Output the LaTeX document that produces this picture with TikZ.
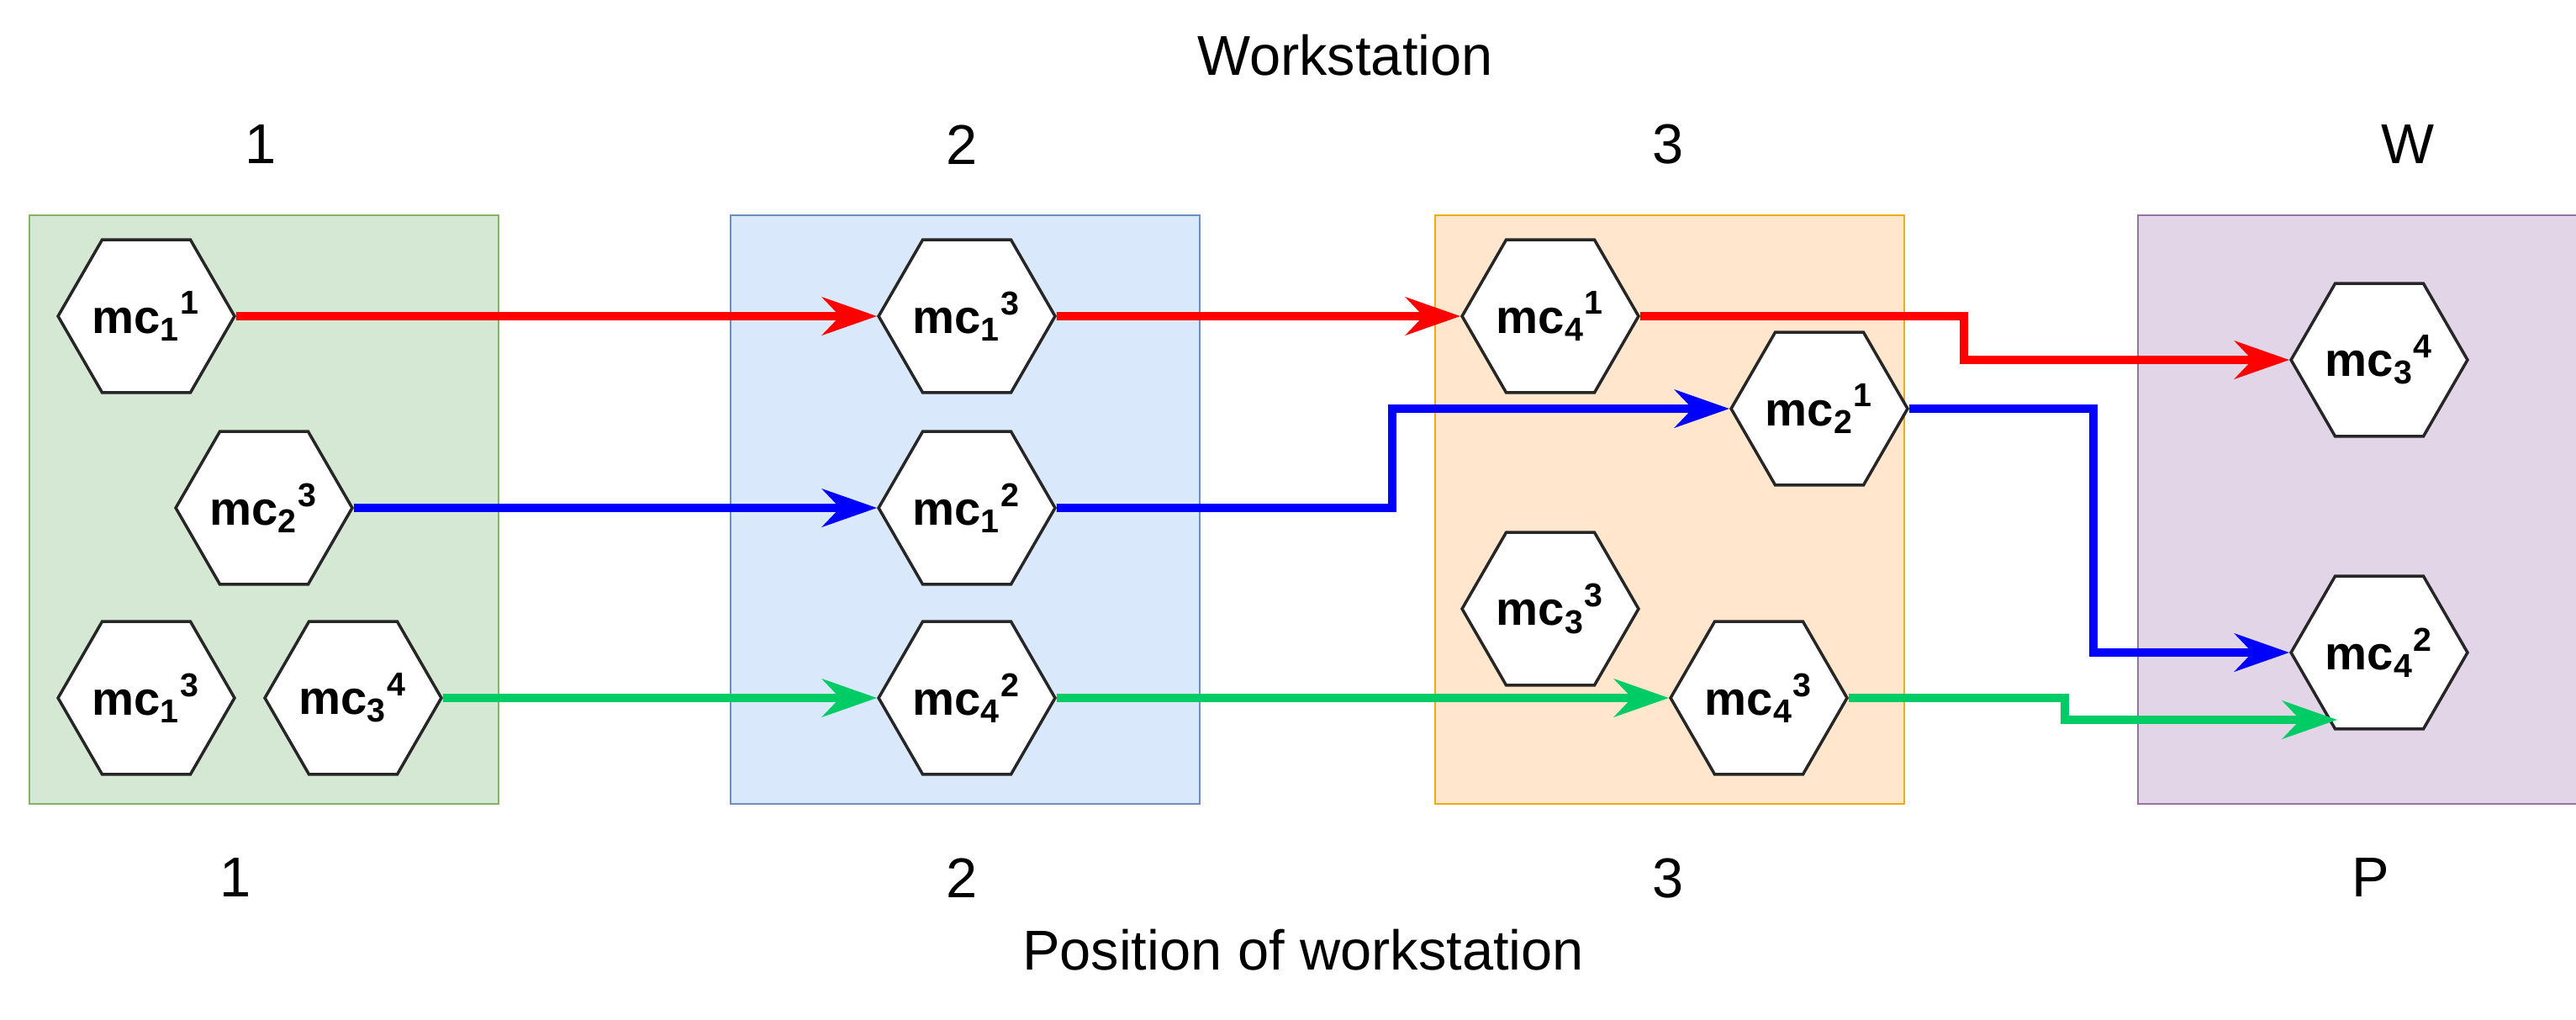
\documentclass[tikz,border=0pt]{standalone}
\usepackage{fontspec}
\setmainfont{Liberation Sans}
\usetikzlibrary{shapes.geometric,arrows.meta}
\definecolor{routegreen}{RGB}{0,204,102}
\definecolor{greenfill}{RGB}{213,232,212}
\definecolor{greenline}{RGB}{130,179,102}
\definecolor{bluefill}{RGB}{218,232,252}
\definecolor{blueline}{RGB}{108,142,191}
\definecolor{orangefill}{RGB}{255,230,204}
\definecolor{orangeline}{RGB}{240,170,20}
\definecolor{purplefill}{RGB}{225,213,231}
\definecolor{purpleline}{RGB}{150,115,166}
\newcommand{\mcl}[2]{mc\textsubscript{#1}\textsuperscript{#2}}
\begin{document}
\begin{tikzpicture}[x=0.02cm,y=-0.02cm]
\tikzstyle{station}=[rectangle, minimum width=5.58cm, minimum height=7cm, line width=0.8pt]
\tikzstyle{mc}=[regular polygon, regular polygon sides=6, minimum size=2.08cm, inner sep=0pt, draw=black!85, fill=white, line width=1pt, font=\bfseries\fontsize{16}{16}\selectfont]
\tikzstyle{lbl}=[font=\fontsize{19}{19}\selectfont]
\tikzstyle{connect}=[-{Stealth[length=6.5mm,width=4.5mm]}, line width=2.8pt]
\useasboundingbox (0,0) rectangle (1532,606);

  \node[station, fill=greenfill, draw=greenline] (s1) at (157,303) {};
  \node[station, fill=bluefill, draw=blueline] (s2) at (574,303) {};
  \node[station, fill=orangefill, draw=orangeline] (s3) at (993,303) {};
  \node[station, fill=purplefill, draw=purpleline] (s4) at (1411,303) {};

  \node[lbl] (ws) at (800,33) {Workstation};
  \node[lbl] (t1) at (155,86) {1};
  \node[lbl] (t2) at (572,86) {2};
  \node[lbl] (t3) at (992,86) {3};
  \node[lbl] (t4) at (1432,86) {W};
  \node[lbl] (b1) at (140,522) {1};
  \node[lbl] (b2) at (572,522) {2};
  \node[lbl] (b3) at (992,522) {3};
  \node[lbl] (b4) at (1410,522) {P};
  \node[lbl] (pos) at (775,565) {Position of workstation};

  \node[mc] (a1) at (87,188) {\mcl{1}{1}};
  \node[mc] (a2) at (157,302) {\mcl{2}{3}};
  \node[mc] (a3) at (87,415) {\mcl{1}{3}};
  \node[mc] (a4) at (210,415) {\mcl{3}{4}};
  \node[mc] (c1) at (575,188) {\mcl{1}{3}};
  \node[mc] (c2) at (575,302) {\mcl{1}{2}};
  \node[mc] (c3) at (575,415) {\mcl{4}{2}};
  \node[mc] (d1) at (922,188) {\mcl{4}{1}};
  \node[mc] (d2) at (1082,243) {\mcl{2}{1}};
  \node[mc] (d3) at (922,362) {\mcl{3}{3}};
  \node[mc] (d4) at (1046,415) {\mcl{4}{3}};
  \node[mc] (e1) at (1415,214) {\mcl{3}{4}};
  \node[mc] (e2) at (1415,388) {\mcl{4}{2}};

  % red route
  \draw[connect, red] (a1.east) -- (c1.west);
  \draw[connect, red] (c1.east) -- (d1.west);
  \draw[connect, red] (d1.east) -| (1168,214) -- (e1.west);
  % blue route
  \draw[connect, blue] (a2.east) -- (c2.west);
  \draw[connect, blue] (c2.east) -| (828,243) -- (d2.west);
  \draw[connect, blue] (d2.east) -| (1245,388) -- (e2.west);
  % green route
  \draw[connect, routegreen] (a4.east) -- (c3.west);
  \draw[connect, routegreen] (c3.east) -- (d4.west);
  \coordinate (g) at (1390,428);
  \draw[connect, routegreen] (d4.east) -| (1228,428) -- (g);
\end{tikzpicture}
\end{document}
